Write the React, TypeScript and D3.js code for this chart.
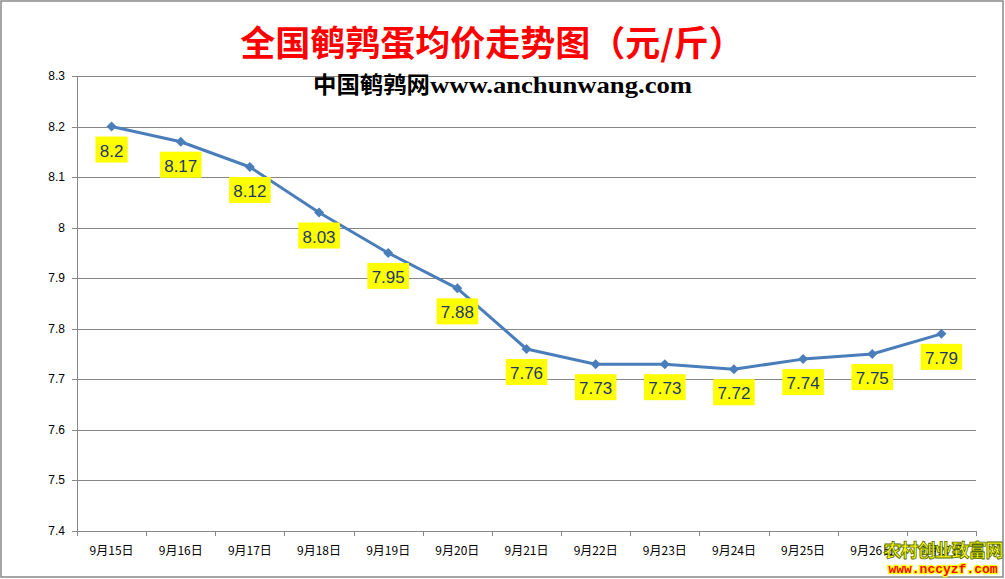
import React from "react";
import * as d3 from "d3";

const categories = ["9月15日","9月16日","9月17日","9月18日","9月19日","9月20日","9月21日","9月22日","9月23日","9月24日","9月25日","9月26日","9月27日"];
const prices = [8.2, 8.17, 8.12, 8.03, 7.95, 7.88, 7.76, 7.73, 7.73, 7.72, 7.74, 7.75, 7.79];
const yTicks = [7.4, 7.5, 7.6, 7.7, 7.8, 7.9, 8, 8.1, 8.2, 8.3];
const title = "全国鹌鹑蛋均价走势图（元/斤）";

const W = 1005, H = 579;
const L = 77, R = 976, T = 76, B = 531;

export default function App() {
  const x = d3.scaleBand().domain(categories).range([L, R]);
  const y = d3.scaleLinear().domain([7.4, 8.3]).range([B, T]);
  const cx = (c: string) => (x(c) as number) + x.bandwidth() / 2;
  const line = d3.line<number>().x((_, i) => cx(categories[i])).y(d => y(d));
  const fmt = (v: number) => String(v);
  const labelFont = "'Liberation Sans', Arial, sans-serif";
  return (
    <svg width={W} height={H} style={{ position: "fixed", left: 0, top: 0, background: "#fff" }}>
      <rect x={1} y={1} width={W - 3} height={H - 3} fill="#fff" stroke="#888" strokeWidth={1.5} />
      <text x={492} y={56} textAnchor="middle" fill="#ff0000" fontSize={35} fontWeight="bold" fontFamily="'Noto Sans CJK SC', sans-serif">{title}</text>
      {yTicks.map(t => (
        <g key={t}>
          <line x1={L - 5} x2={R} y1={Math.round(y(t)) + 0.5} y2={Math.round(y(t)) + 0.5} stroke="#868686" strokeWidth={1} />
          <text x={L - 12} y={y(t) + 4} textAnchor="end" fontSize={12} fill="#000" fontFamily={labelFont}>{fmt(t)}</text>
        </g>
      ))}
      <line x1={L + 0.5} x2={L + 0.5} y1={T} y2={B} stroke="#868686" />
      {categories.map((c, i) => (
        <g key={c}>
          <line x1={Math.round(x(c) as number) + 0.5} x2={Math.round(x(c) as number) + 0.5} y1={B} y2={B + 5} stroke="#868686" />
          {i === categories.length - 1 && <line x1={R + 0.5} x2={R + 0.5} y1={B} y2={B + 5} stroke="#868686" />}
          <text x={cx(c)} y={555} textAnchor="middle" fontSize={12} fill="#000" fontFamily="'Noto Sans CJK SC', sans-serif">{c}</text>
        </g>
      ))}
      <text x={313} y={93} fontWeight="bold" fill="#000" fontSize={23} fontFamily="'Noto Sans CJK SC', sans-serif" textLength={117} lengthAdjust="spacingAndGlyphs">中国鹌鹑网</text>
      <text x={430} y={93} fontWeight="bold" fill="#000" fontSize={24} fontFamily="'Liberation Serif', 'DejaVu Serif', serif" textLength={262} lengthAdjust="spacingAndGlyphs">www.anchunwang.com</text>
      <path d={line(prices) || ""} fill="none" stroke="#4a7ebb" strokeWidth={3} strokeLinejoin="round" />
      {prices.map((v, i) => {
        const px = cx(categories[i]), py = y(v);
        const s = fmt(v);
        const bw = s.length * 9.4 + 4;
        return (
          <g key={i}>
            <path d={`M${px},${py - 5}L${px + 5},${py}L${px},${py + 5}L${px - 5},${py}Z`} fill="#4a7ebb" />
            <rect x={px - bw / 2} y={py + 10} width={bw} height={26} fill="#ffff00" />
            <text x={px} y={py + 30} textAnchor="middle" fontSize={17} fill="#1f3864" fontFamily={labelFont}>{s}</text>
          </g>
        );
      })}
      <text x={943} y={557} textAnchor="middle" fontSize={18} fontWeight="bold" fill="#ffff00" stroke="#556b00" strokeWidth={0.8} fontFamily="'Noto Sans CJK SC', sans-serif" letterSpacing={-1}>农村创业致富网</text>
      <text x={943} y={573} textAnchor="middle" fontSize={13} fontWeight="bold" fill="#ff0000" stroke="#ffff00" strokeWidth={2.5} paintOrder="stroke" fontFamily="'Liberation Mono', monospace">www.nccyzf.com</text>
    </svg>
  );
}
